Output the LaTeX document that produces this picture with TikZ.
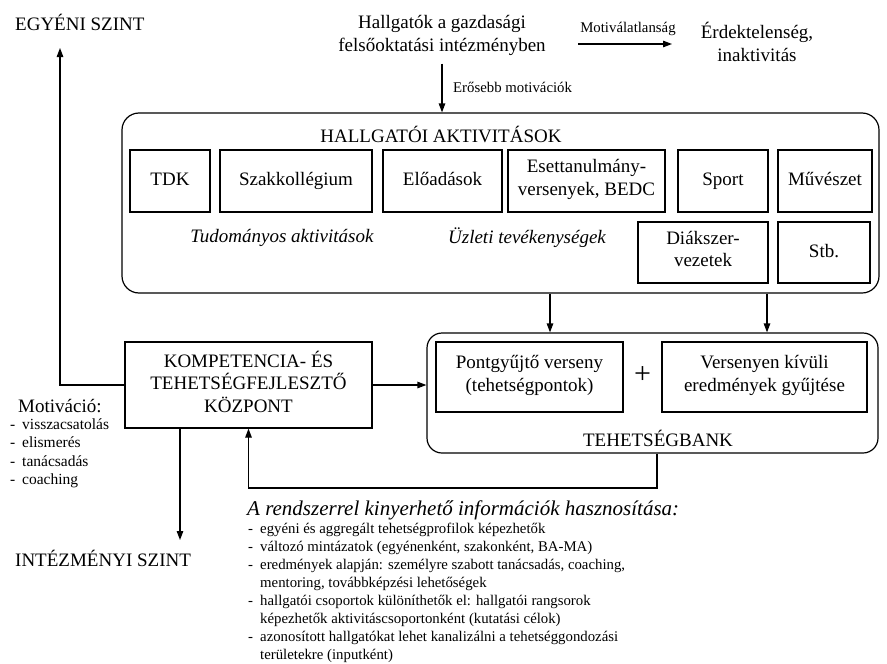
\documentclass[tikz,border=0pt]{standalone}
\usepackage{fontspec}
\setmainfont{Liberation Serif}
\usetikzlibrary{arrows.meta}
\newcommand\szM{\fontsize{19}{22.5}\selectfont}
\newcommand\szT{\fontsize{21}{24}\selectfont}
\newcommand\szS{\fontsize{14.8}{18}\selectfont}
\newcommand\szL{\fontsize{15.5}{18.5}\selectfont}
\newcommand\szP{\fontsize{30}{32}\selectfont}
\newcommand\dashitem{\makebox[12pt][l]{-}}
\begin{document}
\begin{tikzpicture}[x=1pt,y=-1pt,
  lw/.style={line width=1.2pt},
  arr/.style={lw,-{Triangle[length=9pt,width=6.5pt]}},
  box/.style={draw,lw,inner sep=2pt,align=center,font=\szM,
    execute at begin node=\strut, execute at end node=\strut},
  rbox/.style={draw,lw,rounded corners=17pt,inner sep=0pt},
  txt/.style={inner sep=0pt,align=center,font=\szM},
  small/.style={inner sep=0pt,font=\szS},
  list/.style={inner sep=0pt,anchor=base west,font=\szS},
  mlist/.style={inner sep=0pt,anchor=base west,font=\szL}]
\useasboundingbox (0,0) rectangle (887,664);

% top
\node[txt,anchor=west] (egyeni) at (15,22) {EGYÉNI SZINT};
\node[txt] (hallg) at (442,35.5) {Hallgatók a gazdasági\\felsőoktatási intézményben};
\node[txt] (erdek) at (757,42) {Érdektelenség,\\inaktivitás};
\node[small] (motival) at (628,29) {Motiválatlanság};
\coordinate (ma) at (578,44);
\coordinate (mb) at (672,44);
\draw[arr] (ma) -- (mb);

% big activity box
\node[rbox,minimum width=757pt,minimum height=180pt] (aktiv) at (500.5,203) {};
\node[txt] (aktivt) at (441,134) {HALLGATÓI AKTIVITÁSOK};
\draw[arr,shorten <=8pt] (hallg.south) -- (hallg.south |- aktiv.north);
\node[small,anchor=west] (eros) at (453,87) {Erősebb motivációk};

\node[box,minimum width=80pt,minimum height=62pt] (tdk) at (170,181) {TDK};
\node[box,minimum width=152pt,minimum height=62pt] (szak) at (296,181) {Szakkollégium};
\node[box,minimum width=119pt,minimum height=62pt] (eload) at (442.5,181) {Előadások};
\node[box,minimum width=157pt,minimum height=62pt] (eset) at (586.5,181) {Esettanulmány-\\versenyek, BEDC};
\node[box,minimum width=90pt,minimum height=62pt] (sport) at (723,181) {Sport};
\node[box,minimum width=94pt,minimum height=62pt] (muv) at (825,181) {Művészet};
\node[box,minimum width=130pt,minimum height=61pt] (diak) at (703,252.5) {Diákszer-\\vezetek};
\node[box,minimum width=92pt,minimum height=61pt] (stb) at (824,252.5) {Stb.};
\node[txt,font=\szM\itshape] (tud) at (282,238) {Tudományos aktivitások};
\node[txt,font=\szM\itshape] (uzl) at (527,238) {Üzleti tevékenységek};

% talent bank
\node[rbox,rounded corners=15pt,minimum width=451pt,minimum height=120pt] (bank) at (652.5,393) {};
\node[box,minimum width=187pt,minimum height=70pt] (pont) at (529.5,377) {Pontgyűjtő verseny\\(tehetségpontok)};
\node[txt,font=\szP] (plus) at (642.5,375) {+};
\node[box,minimum width=205pt,minimum height=70pt] (vers) at (764.5,377) {Versenyen kívüli\\eredmények gyűjtése};
\node[txt] (bankt) at (658,438) {TEHETSÉGBANK};

\coordinate (c1) at (550,0);
\coordinate (c2) at (767,0);
\draw[arr] (aktiv.south -| c1) -- (bank.north -| c1);
\draw[arr] (aktiv.south -| c2) -- (bank.north -| c2);

% competence centre
\node[box,minimum width=247pt,minimum height=86pt] (komp) at (248.5,385) {KOMPETENCIA- ÉS\\TEHETSÉGFEJLESZTŐ\\KÖZPONT};
\draw[arr] (komp.east) -- (komp.east -| bank.west);
\coordinate (eg) at (60,48);
\draw[arr] (komp.west) -| (eg);
\coordinate (iz) at (180,540);
\draw[arr] (komp.south -| iz) -- (iz);
\coordinate (fb) at (657,488);
\draw[arr] (bank.south -| fb) -- (fb) -| (komp.south);

\node[txt,anchor=west] (intez) at (15,558) {INTÉZMÉNYI SZINT};

% motivation list
\node[inner sep=0pt,anchor=base west,font=\szM] (mot) at (18,412.5) {Motiváció:};
\node[mlist] (m1) at (10,429) {\dashitem visszacsatolás};
\node[mlist] (m2) at (10,447.5) {\dashitem elismerés};
\node[mlist] (m3) at (10,466) {\dashitem tanácsadás};
\node[mlist] (m4) at (10,484.5) {\dashitem coaching};

% information list
\node[inner sep=0pt,anchor=base west,font=\szT\itshape] (info) at (247,515) {A rendszerrel kinyerhető információk hasznosítása:};
\node[list] (i1) at (248,533.5) {\dashitem egyéni és aggregált tehetségprofilok képezhetők};
\node[list] (i2) at (248,551.5) {\dashitem változó mintázatok (egyénenként, szakonként, BA-MA)};
\node[list] (i3) at (248,569.5) {\dashitem eredmények alapján: személyre szabott tanácsadás, coaching,};
\node[list] (i3b) at (260,587.5) {mentoring, továbbképzési lehetőségek};
\node[list] (i4) at (248,605.5) {\dashitem hallgatói csoportok különíthetők el: hallgatói rangsorok};
\node[list] (i4b) at (260,623.5) {képezhetők aktivitáscsoportonként (kutatási célok)};
\node[list] (i5) at (248,641.5) {\dashitem azonosított hallgatókat lehet kanalizálni a tehetséggondozási};
\node[list] (i5b) at (260,659.5) {területekre (inputként)};
\end{tikzpicture}
\end{document}
